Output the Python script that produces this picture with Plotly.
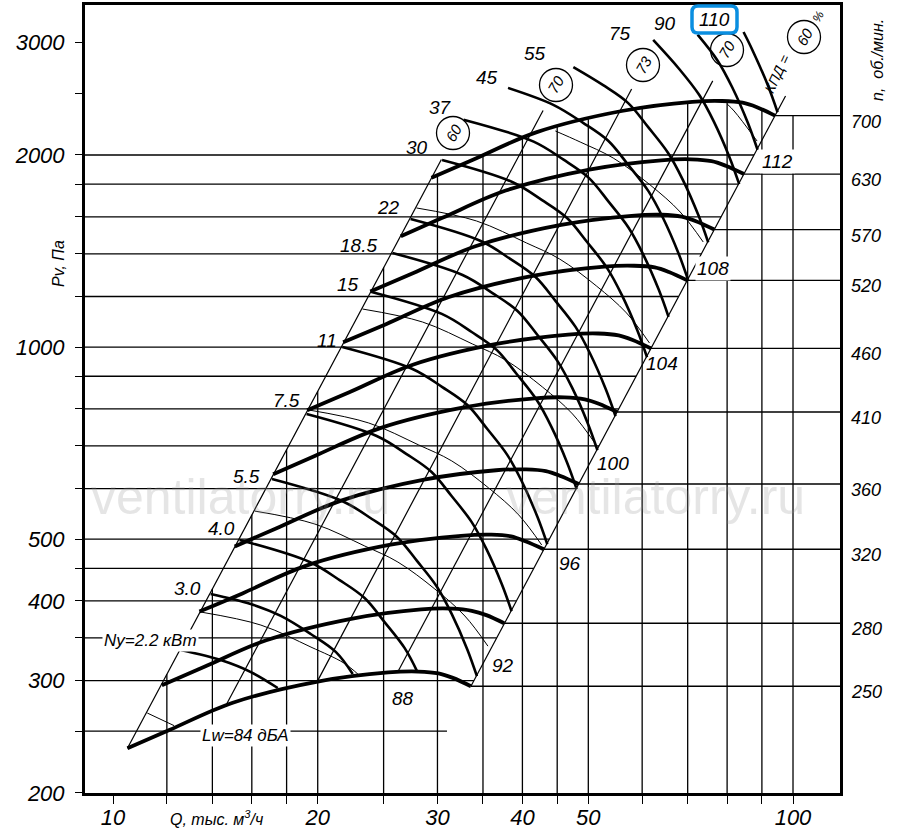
import numpy as np
import plotly.graph_objects as go

# fan curves: Q in thousand m3/h, Pv in Pa
rpm = [250, 280, 320, 360, 410, 460, 520, 570, 630, 700]
fan_q = [
    [10.5, 12.1, 15.0, 20.0, 25.4, 28.1, 30.1, 31.6, 33.6],
    [11.8, 13.6, 16.8, 22.4, 28.4, 31.5, 33.7, 35.4, 37.6],
    [13.4, 15.5, 19.2, 25.6, 32.5, 36.0, 38.5, 40.4, 43.0],
    [15.1, 17.4, 21.6, 28.8, 36.6, 40.5, 43.3, 45.5, 48.4],
    [17.2, 19.8, 24.6, 32.8, 41.7, 46.1, 49.4, 51.8, 55.1],
    [19.3, 22.3, 27.6, 36.8, 46.7, 51.7, 55.4, 58.1, 61.8],
    [21.8, 25.2, 31.2, 41.6, 52.8, 58.4, 62.6, 65.7, 69.9],
    [23.9, 27.6, 34.2, 45.6, 57.9, 64.1, 68.6, 72.0, 76.6],
    [26.5, 30.5, 37.8, 50.4, 64.0, 70.8, 75.9, 79.6, 84.7],
    [29.4, 33.9, 42.0, 56.0, 71.1, 78.7, 84.3, 88.5, 94.1],
]
fan_p = [
    [235, 251, 277, 299, 309, 310, 308, 303, 294],
    [295, 315, 347, 375, 388, 389, 386, 380, 369],
    [385, 411, 454, 490, 506, 508, 505, 496, 482],
    [487, 520, 574, 620, 641, 643, 639, 628, 610],
    [632, 675, 745, 804, 831, 834, 828, 815, 791],
    [796, 850, 938, 1012, 1046, 1050, 1043, 1026, 995],
    [1017, 1086, 1198, 1294, 1337, 1341, 1333, 1311, 1272],
    [1222, 1305, 1440, 1554, 1606, 1612, 1601, 1575, 1528],
    [1492, 1594, 1759, 1899, 1962, 1969, 1956, 1924, 1867],
    [1842, 1968, 2172, 2344, 2423, 2430, 2415, 2376, 2305],
]

# motor power lines, kW
power_kw = ["2.2", "3.0", "4.0", "5.5", "7.5", "11", "15", "18.5",
            "22", "30", "37", "45", "55", "75", "90", "110"]
power_q = [
    [12.58, 14.40, 15.95, 17.47],
    [13.92, 15.94, 17.65, 19.53, 21.26, 22.52],
    [15.35, 19.46, 21.54, 23.44, 25.08, 26.85, 28.04],
    [17.13, 21.72, 24.03, 26.16, 27.99, 29.96, 31.48, 33.18, 34.29],
    [19.26, 24.42, 27.02, 29.41, 31.47, 33.69, 35.40, 37.31, 38.56],
    [21.74, 27.57, 30.50, 33.20, 35.52, 38.02, 39.96, 42.11, 43.52],
    [24.01, 30.44, 33.69, 36.66, 39.23, 41.99, 44.13, 46.51, 48.07],
    [25.76, 32.66, 36.14, 39.34, 42.09, 45.05, 47.35, 49.90, 51.57],
    [27.39, 34.73, 38.43, 41.82, 44.76, 47.91, 50.34, 53.05, 54.83],
    [30.47, 38.64, 42.75, 46.53, 49.79, 53.29, 56.00, 59.02, 61.00],
    [32.77, 41.55, 45.98, 50.04, 53.55, 57.31, 60.23, 63.48, 65.61],
    [38.10, 44.41, 49.13, 53.48, 57.22, 61.25, 64.37, 67.83, 70.11],
    [47.53, 52.58, 57.23, 61.24, 65.55, 68.89, 72.60, 75.04],
    [62.28, 68.02, 72.81, 76.52, 80.64, 83.34],
    [72.39, 77.48, 81.42, 85.81, 88.69],
    [84.58, 87.14, 91.83, 94.91],
]
power_p = [
    [335.0, 323.1, 309.4, 292.1],
    [410.2, 395.6, 378.9, 355.0, 332.8, 307.3],
    [498.3, 460.3, 431.2, 404.2, 370.6, 337.3, 309.4],
    [621.2, 573.8, 537.6, 503.9, 462.1, 420.6, 381.7, 336.1, 304.9],
    [785.3, 725.4, 679.6, 637.0, 584.1, 531.6, 482.6, 424.8, 385.4],
    [1000, 923.7, 865.4, 811.2, 743.8, 677.0, 614.5, 541.0, 490.8],
    [1220, 1126.9, 1055.8, 989.7, 907.4, 825.9, 749.7, 660.0, 598.8],
    [1404, 1296.9, 1215.0, 1138.9, 1044.3, 950.5, 862.8, 759.6, 689.1],
    [1587, 1465.9, 1373.4, 1287.4, 1180.4, 1074.4, 975.2, 858.6, 778.9],
    [1964, 1814.1, 1699.6, 1593.2, 1460.8, 1329.6, 1206.9, 1062.5, 963.9],
    [2272, 2098.7, 1966.2, 1843.0, 1689.9, 1538.1, 1396.1, 1229.2, 1115.1],
    [2548, 2397.0, 2245.7, 2105.1, 1930.2, 1756.8, 1594.6, 1403.9, 1273.6],
    [2746.2, 2572.8, 2411.7, 2211.3, 2012.7, 1826.9, 1608.4, 1459.2],
    [3029, 2727.5, 2482.6, 2253.4, 1983.8, 1799.8],
    [3088.3, 2810.9, 2551.4, 2246.2, 2037.8],
    [3117, 2922.0, 2572.5, 2333.8],
]

# sound power lines, dBA
noise_db = [84, 88, 92, 96, 100, 104, 108, 112]
noise_q = [
    [11.23, 12.3],
    [13.47, 16.50, 19.55, 21.86, 23.0],
    [16.17, 19.81, 23.46, 26.24, 29.74, 32.92, 35.59],
    [19.40, 23.77, 28.15, 31.49, 35.68, 39.50, 42.70],
    [23.28, 28.52, 33.78, 37.78, 42.81, 47.40, 51.24],
    [27.94, 34.23, 40.54, 45.35, 51.38, 56.89, 61.50],
    [44.72, 48.64, 54.40, 61.64, 68.25, 73.78],
    [79.98, 81.91, 88.55],
]
noise_p = [
    [266.9, 255],
    [384.2, 366.6, 338.6, 319.6, 306],
    [553.2, 527.9, 487.6, 460.2, 417.5, 378.8, 339.8],
    [796.8, 760.3, 702.3, 662.9, 601.3, 545.6, 489.5],
    [1147, 1094.5, 1011.0, 954.2, 865.6, 785.4, 704.6],
    [1652, 1576.3, 1456.1, 1374.3, 1246.8, 1131.1, 1014.8],
    [2181, 2096, 1978, 1795, 1628, 1461],
    [2405, 2344, 2103],
]

# efficiency lines (first and last are the working-range borders)
eff_pct = ["60", "70", "73", "70", "60"]
eff_q = [[10.5, 30.4], [14.7, 42.9], [20.0, 57.9], [26.2, 76.2], [33.6, 97.5]]
eff_p = [[235, 1968], [276, 2348], [300, 2538], [309, 2613], [294, 2475]]

grid_p = [250, 300, 350, 400, 450, 500, 600, 700, 800, 900, 1000,
          1200, 1400, 1600, 1800, 2000]
grid_q = [12, 14, 16, 18, 20, 25, 30, 35, 40, 45, 50, 60, 70, 80, 90, 100]
p_ticks = [200] + grid_p + [2500, 3000]
p_shown = [200, 300, 400, 500, 1000, 2000, 3000]
q_ticks = [10] + grid_q
q_shown = [10, 20, 30, 40, 50, 100]

XR = [0.9588, 2.0691]
YR = [2.3010, 3.5361]
FONT = "Liberation Sans Narrow, Liberation Sans, Arial, sans-serif"


def paper(x, y):
    # pixel position in the 900x834 page -> paper coords
    return (x - 85) / 755, (793 - y) / 788


fig = go.Figure()

# --- clipped grid --------------------------------------------------------
k_left = eff_p[0][0] / eff_q[0][0] ** 2
k_right = eff_p[-1][0] / eff_q[-1][0] ** 2
q_min, q_max = 10 ** XR[0], 10 ** XR[1]
gx, gy = [], []
for p in grid_p:
    gx += [q_min, np.sqrt(p / k_right), None]
    gy += [p, p, None]
for q in grid_q:
    top_curve = np.exp(np.interp(np.log(q), np.log(fan_q[-1]), np.log(fan_p[-1])))
    gx += [q, q, None]
    gy += [10 ** YR[0], min(k_left * q * q, top_curve), None]
for qs, ps in zip(fan_q, fan_p):
    gx += [qs[-1], q_max, None]
    gy += [ps[-1], ps[-1], None]
fig.add_trace(go.Scatter(x=gx, y=gy, mode="lines",
                         line=dict(color="black", width=1.3), hoverinfo="skip"))

# --- efficiency lines ----------------------------------------------------
ex, ey = [], []
for qs, ps in zip(eff_q, eff_p):
    ex += qs + [None]
    ey += ps + [None]
fig.add_trace(go.Scatter(x=ex, y=ey, mode="lines",
                         line=dict(color="black", width=1.2), hoverinfo="skip"))

# --- noise lines ---------------------------------------------------------
for qs, ps in zip(noise_q, noise_p):
    fig.add_trace(go.Scatter(x=qs, y=ps, mode="lines", hoverinfo="skip",
                             line=dict(color="black", width=1.0, shape="spline")))

# --- power lines ---------------------------------------------------------
for qs, ps in zip(power_q, power_p):
    fig.add_trace(go.Scatter(x=qs, y=ps, mode="lines", hoverinfo="skip",
                             line=dict(color="black", width=2.6, shape="spline")))

# --- fan curves ----------------------------------------------------------
for qs, ps in zip(fan_q, fan_p):
    fig.add_trace(go.Scatter(x=qs, y=ps, mode="lines", hoverinfo="skip",
                             line=dict(color="black", width=3.8, shape="spline")))

ann = []


def label(text, x, y, size=18, angle=0, bg=None, color="black", family=FONT):
    px_, py_ = paper(x, y)
    a = dict(text=text, x=px_, y=py_, xref="paper", yref="paper",
             showarrow=False, xanchor="center", yanchor="middle",
             textangle=angle, font=dict(size=size, color=color, family=family))
    if bg:
        a["bgcolor"] = bg
        a["borderpad"] = 1
    ann.append(a)


# watermark
for wx in (240, 655):
    label("ventilatorry.ru", wx, 497, size=50, color="rgba(150,150,150,0.25)",
          family="Liberation Sans, Arial, sans-serif")

# power labels
power_pos = [(150, 640), (187, 588), (221, 528), (246, 476), (286, 400),
             (327, 340), (348, 285), (358, 245), (388, 208), (417, 147),
             (440, 107), (487, 78), (535, 54), (620, 33), (665, 23), (714, 19)]
for kw, (x, y) in zip(power_kw, power_pos):
    if kw == "2.2":
        label("<i>Ny=2.2 кВт</i>", x, y, size=17, bg="white")
    else:
        label(f"<i>{kw}</i>", x, y, size=19)

# noise labels
noise_pos = [(245, 735), (403, 698), (503, 665), (570, 563), (613, 463),
             (662, 363), (713, 268), (777, 161)]
for db, (x, y) in zip(noise_db, noise_pos):
    if db == 84:
        label("<i>Lw=84 дБА</i>", x, y, size=17, bg="white")
    elif db in (108, 112):
        label(f"<i>{db}</i>", x, y, size=19, bg="white")
    else:
        label(f"<i>{db}</i>", x, y, size=19)

# efficiency circles
shapes = []
eff_pos = [(453, 133), (556, 85), (643, 65), (727, 50), (804, 37)]
for pct, (x, y) in zip(eff_pct, eff_pos):
    cx, cy = paper(x, y)
    shapes.append(dict(type="circle", xref="paper", yref="paper",
                       xsizemode="pixel", ysizemode="pixel",
                       xanchor=cx, yanchor=cy, x0=-16.5, x1=16.5, y0=-16.5, y1=16.5,
                       line=dict(color="black", width=1.3)))
    label(f"<i>{pct}</i>", x, y, size=15, angle=-60)
label("<i>КПД =</i>", 777, 74, size=14, angle=-65)
label("<i>%</i>", 818, 17, size=12, angle=-60)

# highlight around 110
x0, y0 = paper(692, 6)
x1, y1 = paper(737, 33)
rx, ry = 6 / 755, 6 / 788
shapes.append(dict(
    type="path", xref="paper", yref="paper",
    path=(f"M{x0+rx},{y0} L{x1-rx},{y0} Q{x1},{y0} {x1},{y0-ry} "
          f"L{x1},{y1+ry} Q{x1},{y1} {x1-rx},{y1} L{x0+rx},{y1} "
          f"Q{x0},{y1} {x0},{y1+ry} L{x0},{y0-ry} Q{x0},{y0} {x0+rx},{y0} Z"),
    line=dict(color="#0a8ee0", width=3.5)))

# rpm labels at the right
for n, ps in zip(rpm, fan_p):
    ann.append(dict(text=f"<i>{n}</i>", x=(866 - 85) / 755, y=np.log10(ps[-1]),
                    xref="paper", yref="y", showarrow=False, yshift=-6,
                    xanchor="center", yanchor="middle",
                    font=dict(size=18, color="black", family=FONT)))

label("<i>n,  об./мин.</i>", 878, 60, size=16, angle=-90)
label("<i>Pv, Па</i>", 59, 264, size=16, angle=-90)
label("<i>Q, тыс. м<sup>3</sup>/ч</i>", 216, 818, size=16)

fig.update_layout(
    width=900, height=834,
    margin=dict(l=85, r=60, t=5, b=41, autoexpand=False),
    plot_bgcolor="white", paper_bgcolor="white",
    showlegend=False,
    annotations=ann, shapes=shapes,
    xaxis=dict(type="log", range=XR, tickmode="array", tickvals=q_ticks,
               ticktext=[f"<i>{q}</i>" if q in q_shown else "" for q in q_ticks],
               ticks="outside", ticklen=8, tickwidth=1.3, tickcolor="black",
               ticklabelstandoff=-5,
               showline=True, linewidth=3, linecolor="black", mirror=True,
               showgrid=False, zeroline=False, automargin=False,
               tickfont=dict(size=22, family=FONT, color="black")),
    yaxis=dict(type="log", range=YR, tickmode="array", tickvals=p_ticks,
               ticktext=[f"<i>{p}</i>" if p in p_shown else "" for p in p_ticks],
               ticks="outside", ticklen=7, tickwidth=1.3, tickcolor="black",
               ticklabelstandoff=6,
               showline=True, linewidth=3, linecolor="black", mirror=True,
               showgrid=False, zeroline=False, automargin=False,
               tickfont=dict(size=22, family=FONT, color="black")),
)

# the page body keeps its default 8px margin otherwise
fig.write_html("out.html", config={"displayModeBar": False},
               post_script="document.body.style.margin='0';")
